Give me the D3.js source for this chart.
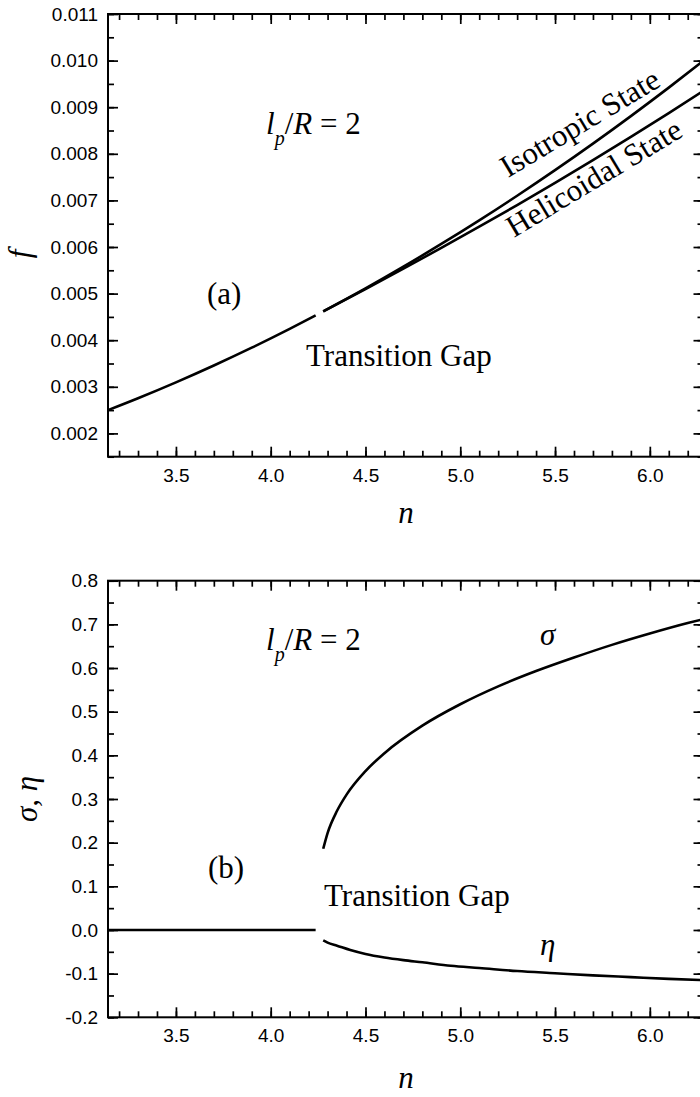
<!DOCTYPE html>
<html>
<head>
<meta charset="utf-8">
<script src="https://cdn.jsdelivr.net/npm/d3@7"></script>
<style>
  html, body { margin: 0; padding: 0; background: #fff; }
  svg { display: block; }
  .ann { font-family: "Liberation Serif", "Times New Roman", serif; font-size: 31px; fill: #000; }
</style>
</head>
<body>
<svg id="chart" width="700" height="1097"></svg>
<script>
// ---------------- data ----------------
const PI = 3.14159, TWO_PI = 6.28318;

// panel (a): free energy f vs n
const nLow   = [PI, 3.3, 3.5, 3.7, 3.9, 4.1, 4.237];
const fLow   = [0.00250, 0.002755, 0.003096, 0.003458, 0.003840, 0.004244, 0.004532];

const nHigh  = [4.277, 4.5, 4.7, 4.9, 5.1, 5.3, 5.5, 5.7, 5.9, 6.1, TWO_PI];
const fIso   = [0.004618, 0.005112, 0.005578, 0.006065, 0.006572, 0.007100, 0.007649, 0.008218, 0.008809, 0.009420, 0.009998];
const fHel   = [0.004618, 0.005098, 0.005535, 0.005981, 0.006435, 0.006900, 0.007377, 0.007864, 0.008364, 0.008875, 0.009353];

// panel (b): order parameters sigma and eta vs n
const nZero  = [PI, 4.237];
const zeroV  = [0, 0];
const nSig   = [4.277, 4.3, 4.35, 4.4, 4.5, 4.6, 4.8, 5.0, 5.2, 5.4, 5.6, 5.8, 6.0, 6.2, TWO_PI];
const sigV   = [0.186, 0.222, 0.273, 0.310, 0.364, 0.405, 0.468, 0.517, 0.558, 0.593, 0.624, 0.653, 0.679, 0.703, 0.712];
const nEta   = [4.277, 4.30, 4.35, 4.42, 4.50, 4.60, 4.70, 4.80, 4.95, 5.10, 5.30, 5.50, 5.70, 5.90, 6.10, TWO_PI];
const etaV   = [-0.024, -0.029, -0.036, -0.046, -0.055, -0.063, -0.069, -0.074, -0.082, -0.087, -0.094, -0.099, -0.104, -0.108, -0.112, -0.115];

// ticks
const xMajor  = [3.5, 4.0, 4.5, 5.0, 5.5, 6.0];
const xMinor  = d3.range(32, 63).map(i => i / 10);
const fMajor  = [0.002, 0.003, 0.004, 0.005, 0.006, 0.007, 0.008, 0.009, 0.010, 0.011];
const fMinor  = d3.range(3, 23).map(i => i / 2000);
const sMajor  = [-0.2, -0.1, 0.0, 0.1, 0.2, 0.3, 0.4, 0.5, 0.6, 0.7, 0.8];
const sMinor  = d3.range(-4, 17).map(i => i / 20);

// ---------------- drawing ----------------
const svg = d3.select("#chart");
const L = 108, R = 703.5;
const x = d3.scaleLinear().domain([PI, TWO_PI]).range([L, R]);
const fmt = spec => { const f = d3.format(spec); return v => f(v).replace("\u2212", "-"); };

function panel(yDomain, top, bottom, yMaj, yMin, yFmt) {
  const y = d3.scaleLinear().domain(yDomain).range([bottom, top]);
  const g = svg.append("g");
  const style = sel => {
    sel.select(".domain").remove();
    sel.selectAll(".tick line").attr("stroke", "#000").attr("stroke-width", 1.7);
    sel.selectAll(".tick text")
      .attr("font-family", "'Liberation Sans', Arial, sans-serif")
      .attr("font-size", 19).attr("fill", "#000");
  };
  // bottom
  g.append("g").attr("transform", `translate(0,${bottom})`)
    .call(d3.axisBottom(x).tickValues(xMinor).tickSize(-6).tickFormat("")).call(style);
  g.append("g").attr("transform", `translate(0,${bottom})`)
    .call(d3.axisBottom(x).tickValues(xMajor).tickSize(-10).tickPadding(11.5).tickFormat(fmt(".1f"))).call(style);
  // top
  g.append("g").attr("transform", `translate(0,${top})`)
    .call(d3.axisTop(x).tickValues(xMinor).tickSize(-6).tickFormat("")).call(style);
  g.append("g").attr("transform", `translate(0,${top})`)
    .call(d3.axisTop(x).tickValues(xMajor).tickSize(-10).tickFormat("")).call(style);
  // left
  g.append("g").attr("transform", `translate(${L},0)`)
    .call(d3.axisLeft(y).tickValues(yMin).tickSize(-6).tickFormat("")).call(style);
  g.append("g").attr("transform", `translate(${L},0)`)
    .call(d3.axisLeft(y).tickValues(yMaj).tickSize(-10).tickPadding(10).tickFormat(yFmt)).call(style);
  // right
  g.append("g").attr("transform", `translate(${R},0)`)
    .call(d3.axisRight(y).tickValues(yMin).tickSize(-6).tickFormat("")).call(style);
  g.append("g").attr("transform", `translate(${R},0)`)
    .call(d3.axisRight(y).tickValues(yMaj).tickSize(-10).tickFormat("")).call(style);
  // frame
  g.append("rect").attr("x", L).attr("y", top).attr("width", R - L).attr("height", bottom - top)
    .attr("fill", "none").attr("stroke", "#000").attr("stroke-width", 2);
  return { g, y };
}

function curve(g, y, xs, ys) {
  const line = d3.line().x((d, i) => x(xs[i])).y(d => y(d)).curve(d3.curveMonotoneX);
  g.append("path").datum(ys).attr("d", line)
    .attr("fill", "none").attr("stroke", "#000").attr("stroke-width", 2.6);
}

// ---- panel (a)
const A = panel([0.0015, 0.011], 14, 456.7, fMajor, fMinor, fmt(".3f"));
curve(A.g, A.y, nLow, fLow);
curve(A.g, A.y, nHigh, fIso);
curve(A.g, A.y, nHigh, fHel);

// ---- panel (b)
const B = panel([-0.2, 0.8], 580.7, 1017.3, sMajor, sMinor, fmt(".1f"));
curve(B.g, B.y, nZero, zeroV);
curve(B.g, B.y, nSig, sigV);
curve(B.g, B.y, nEta, etaV);

// ---------------- annotations ----------------
function lpR(xp, yb) {
  const t = svg.append("text").attr("class", "ann").attr("x", xp).attr("y", yb);
  t.append("tspan").attr("font-style", "italic").text("l");
  t.append("tspan").attr("font-style", "italic").attr("font-size", "20px").attr("dy", 11).text("p");
  t.append("tspan").attr("dy", -11).text("/");
  t.append("tspan").attr("font-style", "italic").text("R");
  t.append("tspan").text(" = 2");
}
function txt(s, xp, yb, opts = {}) {
  const t = svg.append("text").attr("class", "ann").text(s);
  if (opts.rot !== undefined) {
    t.attr("transform", `translate(${xp},${yb}) rotate(${opts.rot})`);
  } else {
    t.attr("x", xp).attr("y", yb);
  }
  if (opts.italic) t.attr("font-style", "italic");
  if (opts.anchor) t.attr("text-anchor", opts.anchor);
  return t;
}

// panel (a)
lpR(266, 134);
txt("(a)", 207, 304);
txt("Transition Gap", 306, 366);
txt("Isotropic State", 508, 178, { rot: -31 });
txt("Helicoidal State", 514, 238, { rot: -31 });
txt("n", 406, 523, { italic: true, anchor: "middle" });
txt("f", 30, 254, { italic: true, anchor: "middle", rot: -90 });

// panel (b)
lpR(266, 650);
txt("(b)", 208, 878);
txt("Transition Gap", 324, 906);
txt("σ", 540, 645, { italic: true });
txt("η", 540, 955, { italic: true });
txt("n", 406, 1088, { italic: true, anchor: "middle" });
txt("σ, η", 37, 799, { italic: true, anchor: "middle", rot: -90 });
</script>
</body>
</html>
